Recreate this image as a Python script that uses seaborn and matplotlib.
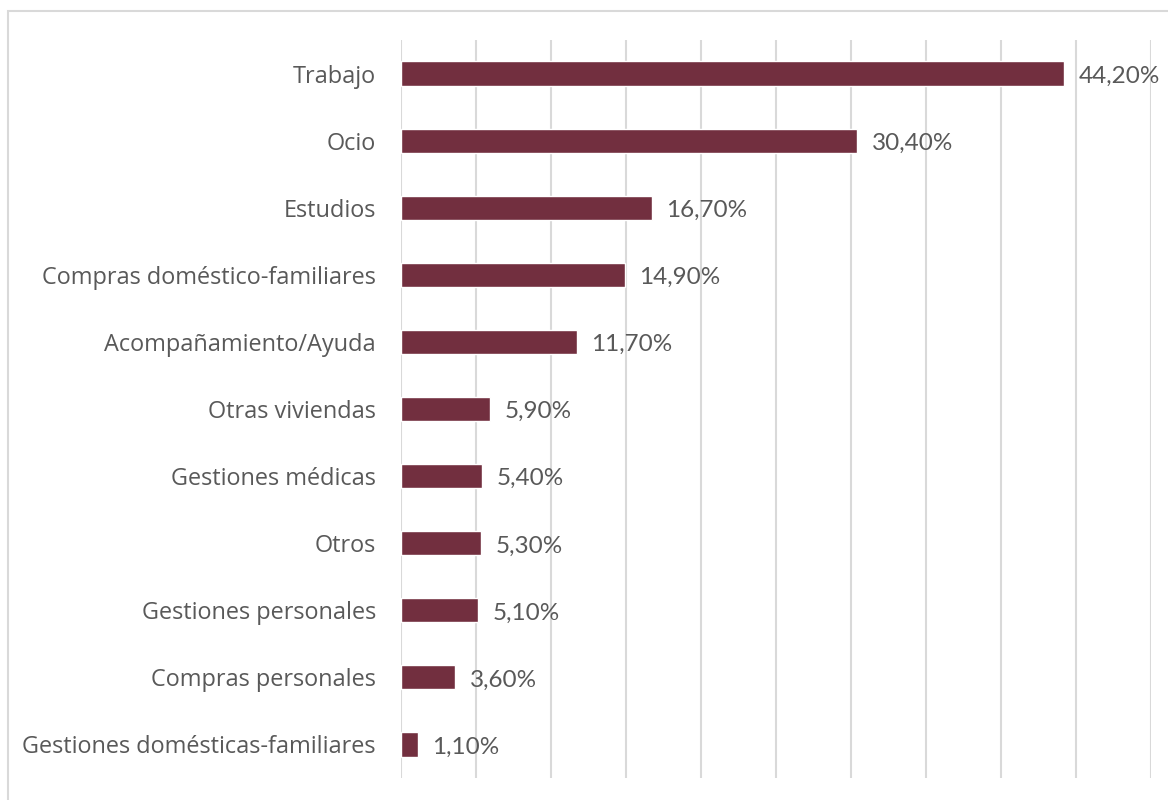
import matplotlib
matplotlib.use("Agg")
import matplotlib.pyplot as plt
import matplotlib.patches as mpatches
import seaborn as sns
import pandas as pd

categories = [
    "Trabajo",
    "Ocio",
    "Estudios",
    "Compras doméstico-familiares",
    "Acompañamiento/Ayuda",
    "Otras viviendas",
    "Gestiones médicas",
    "Otros",
    "Gestiones personales",
    "Compras personales",
    "Gestiones domésticas-familiares",
]
values = [44.2, 30.4, 16.7, 14.9, 11.7, 5.9, 5.4, 5.3, 5.1, 3.6, 1.1]

df = pd.DataFrame({"motivo": categories, "pct": values})

sns.set_theme(style="white")
plt.rcParams["font.family"] = ["Open Sans", "DejaVu Sans"]

W, H = 1168, 800
fig = plt.figure(figsize=(W / 100, H / 100), dpi=100)
ax = fig.add_axes([401 / W, 1 - 778 / H, (1151 - 401) / W, (778 - 40) / H])

bar_color = "#722F3F"
text_color = "#595959"
grid_color = "#D9D9D9"

sns.barplot(data=df, x="pct", y="motivo", orient="h", color=bar_color,
            width=0.36, saturation=1, ax=ax, zorder=3)

ax.set_xlim(0, 50)
ax.set_xticks(range(0, 51, 5))
ax.xaxis.grid(True, color=grid_color, linewidth=1.5, zorder=0)
ax.yaxis.grid(False)
ax.tick_params(axis="x", length=0, labelbottom=False)
ax.tick_params(axis="y", length=0, pad=18, labelsize=16.9, labelcolor=text_color)
ax.set_xlabel("")
ax.set_ylabel("")
for s in ax.spines.values():
    s.set_visible(False)

for i, v in enumerate(values):
    ax.text(v + 1.0, i + 0.04, f"{v:.2f}".replace(".", ",") + "%", va="center", ha="left",
            fontsize=17.5, color=text_color, family=["Lato", "DejaVu Sans"])

# chart area frame
fig.patches.append(mpatches.Rectangle((8 / W, -0.1), 1.2, 1 - 11 / H + 0.1,
                                      transform=fig.transFigure, fill=False,
                                      edgecolor="#D9D9D9", linewidth=1.5))

fig.savefig("out.png", dpi=100, facecolor="white")
